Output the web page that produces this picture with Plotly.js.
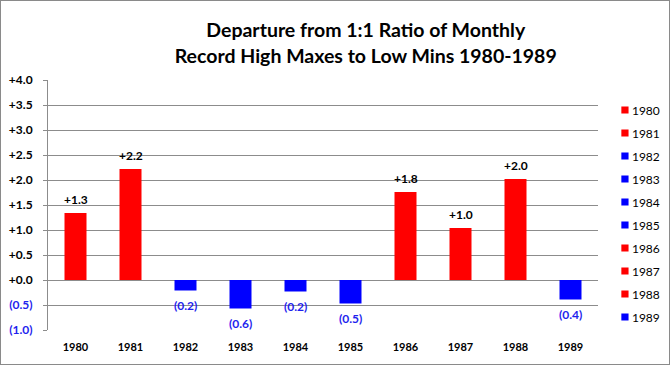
<!DOCTYPE html>
<html>
<head>
<meta charset="utf-8">
<script src="https://cdn.plot.ly/plotly-3.0.1.min.js"></script>
<style>
  html, body { margin: 0; padding: 0; background: #fff; }
  #chart { width: 668px; height: 363px; border: 1px solid #8a8a8a; }
</style>
</head>
<body>
<div id="chart"></div>
<script>
const years = ['1980','1981','1982','1983','1984','1985','1986','1987','1988','1989'];
const values = [1.34, 2.22, -0.21, -0.57, -0.23, -0.47, 1.76, 1.04, 2.02, -0.39];
const yTicks = [-1.0, -0.5, 0.0, 0.5, 1.0, 1.5, 2.0, 2.5, 3.0, 3.5, 4.0];
const boundaries = [0.5, 1.5, 2.5, 3.5, 4.5, 5.5, 6.5, 7.5, 8.5];

const FONT = 'Lato, "Open Sans", sans-serif';
const GRID = '#8c8c8c';
const RED = '#ff0000';
const BLUE = '#0000ff';
const NEG_TEXT = '#1f1fee';

function fmt(v) {
  return v >= 0 ? '+' + v.toFixed(1) : '(' + Math.abs(v).toFixed(1) + ')';
}

const traces = years.map((yr, i) => {
  const v = values[i];
  return {
    type: 'bar',
    x: [yr],
    y: [v],
    name: yr,
    legendgroup: yr,
    width: 0.4,
    marker: { color: v >= 0 ? RED : BLUE },
    hoverinfo: 'x+y'
  };
});

const labels = years.map((yr, i) => {
  const v = values[i];
  return {
    x: i, y: v, xref: 'x', yref: 'y',
    text: fmt(v),
    showarrow: false,
    xanchor: 'center',
    yanchor: 'middle',
    yshift: v >= 0 ? 14 : -15,
    font: { family: FONT, size: 12, weight: 'bold', color: v >= 0 ? '#000' : NEG_TEXT }
  };
});

const tickText = yTicks.map(t => t < 0
  ? '<span style="color:' + NEG_TEXT + '">' + fmt(t) + '</span>'
  : fmt(t));

const layout = {
  width: 668,
  height: 363,
  paper_bgcolor: '#fff',
  plot_bgcolor: '#fff',
  margin: { l: 47, r: 71, t: 79, b: 34, autoexpand: false },
  barmode: 'overlay',
  showlegend: true,
  title: {
    text: 'Departure from 1:1 Ratio of Monthly<br>Record High Maxes to Low Mins 1980-1989',
    font: { family: FONT, size: 19.5, weight: 'bold', color: '#000' },
    xref: 'container', x: 0.546, xanchor: 'center',
    yref: 'container', y: 0.9, yanchor: 'top'
  },
  annotations: labels,
  xaxis: {
    type: 'category',
    categoryorder: 'array',
    categoryarray: years,
    range: [-0.5, 9.5],
    showgrid: false,
    zeroline: false,
    showline: false,
    ticks: '',
    tickfont: { family: FONT, size: 11, weight: 'bold', color: '#000' },
    ticklabelstandoff: 9
  },
  xaxis2: {
    overlaying: 'x',
    anchor: 'free',
    position: 0.2,
    type: 'linear',
    range: [-0.5, 9.5],
    tickmode: 'array',
    tickvals: boundaries,
    ticks: 'outside',
    ticklen: 5,
    tickcolor: GRID,
    tickwidth: 1,
    showticklabels: false,
    showgrid: false,
    zeroline: false,
    showline: false
  },
  yaxis: {
    range: [-1, 4],
    tickmode: 'array',
    tickvals: yTicks,
    ticktext: tickText,
    showgrid: true,
    gridcolor: GRID,
    gridwidth: 1,
    zeroline: false,
    showline: true,
    linecolor: GRID,
    linewidth: 1,
    ticks: 'outside',
    ticklen: 4,
    tickcolor: GRID,
    tickfont: { family: FONT, size: 12, weight: 'bold', color: '#000' },
    ticklabelstandoff: 8
  },
  legend: {
    x: 0.989, xanchor: 'left',
    y: 0.938, yanchor: 'top',
    bgcolor: 'rgba(0,0,0,0)',
    traceorder: 'grouped',
    tracegroupgap: 4,
    font: { family: FONT, size: 12, color: '#000' }
  }
};

Plotly.newPlot('chart', traces, layout, { displayModeBar: false, staticPlot: true }).then(gd => {
  gd.querySelectorAll('.legend .legendpoints path').forEach(p => {
    p.setAttribute('transform', 'translate(33,0) scale(0.6)');
  });
});
</script>
</body>
</html>
